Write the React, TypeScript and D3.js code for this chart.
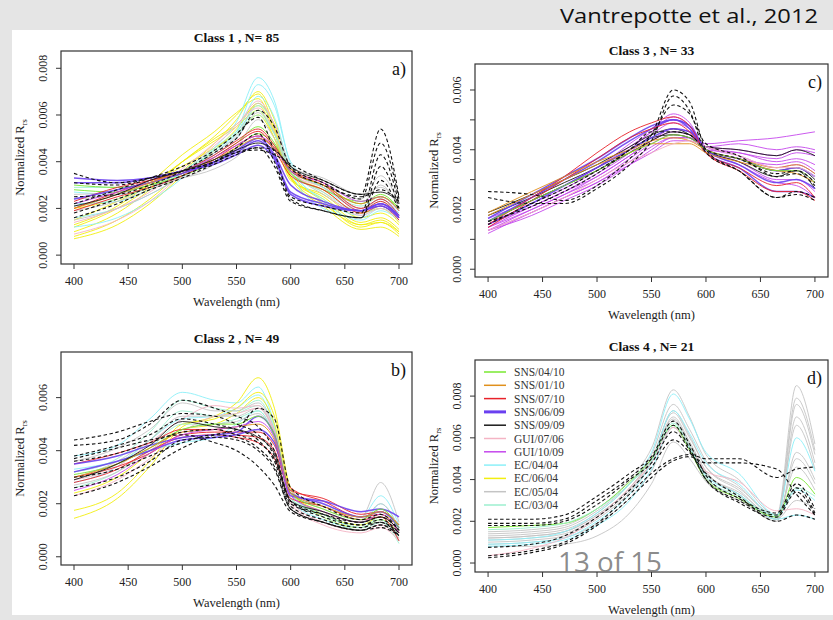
import React, { useEffect } from "react";
import * as d3 from "d3";

// Wavelength sampling (nm) shared by every spectrum
const WAVELENGTHS = [400, 440, 470, 500, 530, 550, 570, 585, 600, 630, 665, 683, 700];
const X_TICKS = [400, 450, 500, 550, 600, 650, 700];

const LEGEND_LABELS = [
  "SNS/04/10", "SNS/01/10", "SNS/07/10", "SNS/06/09", "SNS/09/09",
  "GUI/07/06", "GUI/10/09", "EC/04/04", "EC/06/04", "EC/05/04", "EC/03/04",
];
const LEGEND_COLORS = [
  "#78e830", "#e0901c", "#e8222a", "#6a40f0", "#1a1a1a",
  "#f4b4c4", "#c548ec", "#8cf0f8", "#f2ee10", "#c4c4c4", "#9cefcf",
];
const DASHED = "dashed";

// Normalized Rrs values in units of 1e-3 sr^-1 at WAVELENGTHS
const class1Categories = [
  "EC/06/04", "EC/06/04", "EC/06/04", "EC/06/04", "EC/06/04", "EC/06/04", "EC/06/04",
  "EC/04/04", "EC/04/04", "EC/04/04", "EC/04/04",
  "EC/05/04", "EC/05/04", "EC/05/04", "EC/05/04",
  "GUI/07/06", "GUI/07/06", "EC/03/04", "EC/03/04", "SNS/04/10", "SNS/04/10",
  "SNS/07/10", "SNS/07/10", "SNS/07/10", "SNS/06/09", "SNS/06/09", "SNS/06/09",
  "GUI/10/09", "SNS/01/10", "SNS/09/09",
  DASHED, DASHED, DASHED, DASHED, DASHED, DASHED,
];
const class1Values = [
  [0.8, 1.5, 2.4, 3.6, 4.8, 5.8, 7.0, 5.8, 3.6, 2.3, 1.2, 1.4, 0.9],
  [1.0, 1.8, 2.8, 4.0, 5.1, 6.0, 6.9, 5.5, 3.4, 2.2, 1.3, 1.5, 1.0],
  [1.3, 2.1, 3.1, 4.3, 5.3, 6.1, 6.7, 5.3, 3.3, 2.5, 1.4, 1.6, 1.1],
  [1.5, 2.3, 3.0, 4.0, 4.9, 5.5, 6.2, 5.0, 3.2, 2.6, 1.6, 1.8, 1.3],
  [2.0, 2.4, 3.0, 3.8, 4.6, 5.2, 6.0, 5.0, 3.5, 2.8, 1.8, 2.0, 1.4],
  [0.7, 1.3, 2.2, 3.4, 4.5, 5.4, 6.5, 5.4, 3.3, 2.1, 1.1, 1.2, 0.8],
  [1.2, 2.0, 2.9, 4.0, 5.0, 5.6, 6.4, 5.2, 3.3, 2.4, 1.3, 1.4, 1.0],
  [1.2, 1.6, 2.3, 3.3, 4.6, 5.7, 7.6, 6.6, 3.9, 2.3, 1.5, 1.9, 1.5],
  [2.7, 2.6, 2.9, 3.5, 4.5, 5.3, 7.3, 6.4, 4.0, 2.9, 2.0, 2.4, 1.8],
  [2.2, 2.3, 2.8, 3.5, 4.3, 5.0, 6.4, 5.6, 3.6, 2.0, 1.6, 2.0, 1.6],
  [1.6, 2.0, 2.6, 3.4, 4.4, 5.2, 6.8, 5.9, 3.7, 2.4, 1.7, 2.1, 1.5],
  [2.4, 2.6, 3.0, 3.3, 3.9, 4.6, 5.8, 5.0, 3.6, 3.0, 2.4, 3.4, 2.2],
  [1.9, 2.3, 2.8, 3.4, 4.3, 5.0, 6.1, 5.2, 3.7, 2.9, 2.2, 3.0, 2.0],
  [1.5, 2.0, 2.6, 3.4, 4.4, 5.1, 6.5, 5.6, 3.8, 2.6, 1.9, 2.4, 1.7],
  [2.6, 2.7, 3.0, 3.3, 3.7, 4.2, 5.0, 4.6, 3.8, 3.3, 2.6, 2.9, 2.2],
  [0.9, 1.5, 2.3, 3.5, 4.7, 5.5, 6.6, 5.6, 3.7, 2.7, 1.7, 2.0, 1.5],
  [1.4, 2.0, 2.7, 3.7, 4.8, 5.6, 6.3, 5.3, 3.5, 2.9, 2.0, 2.2, 1.6],
  [2.9, 2.9, 3.1, 3.6, 4.5, 5.2, 6.0, 5.2, 3.8, 2.9, 2.1, 2.5, 1.9],
  [2.1, 2.4, 2.9, 3.6, 4.6, 5.3, 6.2, 5.2, 3.6, 2.7, 1.9, 2.3, 1.7],
  [3.0, 2.9, 3.1, 3.5, 4.2, 4.8, 5.5, 4.8, 3.6, 3.0, 2.2, 2.6, 2.0],
  [2.8, 2.7, 3.0, 3.4, 4.0, 4.6, 5.2, 4.7, 3.5, 2.8, 2.3, 2.5, 2.0],
  [2.0, 2.7, 3.2, 3.6, 4.3, 4.9, 5.4, 4.7, 3.6, 3.0, 1.9, 2.3, 1.6],
  [2.3, 2.9, 3.2, 3.5, 4.2, 4.8, 5.3, 4.6, 3.7, 3.1, 2.0, 2.4, 1.7],
  [1.9, 2.5, 2.9, 3.4, 4.1, 4.7, 5.1, 4.5, 3.4, 2.8, 1.8, 2.1, 1.5],
  [3.3, 3.2, 3.3, 3.6, 3.9, 4.3, 4.7, 4.1, 2.6, 2.1, 1.9, 2.1, 1.6],
  [3.1, 3.1, 3.3, 3.6, 4.0, 4.4, 4.9, 4.2, 2.7, 2.2, 1.9, 2.2, 1.7],
  [2.4, 2.8, 3.1, 3.5, 4.0, 4.5, 5.0, 4.3, 3.0, 2.3, 1.9, 2.2, 1.6],
  [2.2, 2.7, 3.1, 3.6, 4.2, 4.7, 5.1, 4.6, 3.6, 3.1, 2.3, 2.5, 1.9],
  [2.0, 2.6, 3.1, 3.6, 4.1, 4.6, 5.0, 4.6, 3.7, 3.0, 2.2, 2.5, 1.9],
  [2.1, 2.6, 3.2, 3.6, 4.1, 4.5, 4.8, 4.5, 3.8, 3.2, 2.6, 2.7, 2.3],
  [3.5, 3.1, 3.3, 3.6, 4.0, 4.4, 4.5, 4.3, 3.9, 3.2, 2.6, 5.4, 2.5],
  [2.5, 2.6, 3.0, 3.6, 4.4, 5.0, 6.2, 5.5, 3.8, 3.1, 2.4, 4.8, 2.4],
  [2.2, 2.8, 3.3, 3.8, 4.5, 5.2, 5.9, 4.4, 2.5, 2.1, 1.8, 4.3, 2.2],
  [1.8, 2.4, 2.9, 3.4, 4.0, 4.6, 5.2, 4.0, 2.4, 1.9, 1.6, 3.8, 2.0],
  [1.6, 2.2, 2.8, 3.3, 3.9, 4.3, 4.6, 3.8, 2.3, 1.9, 1.6, 3.2, 1.9],
  [3.1, 3.0, 3.3, 3.6, 4.0, 4.4, 4.6, 4.5, 3.7, 3.0, 2.5, 2.8, 2.3],
];

const class2Categories = [
  "EC/04/04", "EC/04/04", "EC/04/04", "EC/06/04", "EC/06/04", "EC/06/04",
  "EC/03/04", "EC/03/04", "EC/03/04", "EC/05/04", "EC/05/04", "EC/05/04",
  "GUI/07/06", "GUI/07/06", "SNS/07/10", "SNS/07/10", "SNS/07/10",
  "SNS/06/09", "SNS/06/09", "SNS/04/10", "SNS/01/10", "GUI/10/09", "SNS/09/09",
  DASHED, DASHED, DASHED, DASHED, DASHED, DASHED, DASHED, DASHED,
];
const class2Values = [
  [3.8, 4.2, 5.2, 6.2, 5.9, 5.8, 6.4, 5.0, 2.3, 1.9, 1.5, 2.3, 1.2],
  [3.3, 3.6, 4.0, 4.3, 4.5, 5.0, 5.5, 4.5, 2.1, 1.4, 1.1, 1.4, 0.6],
  [2.8, 3.4, 4.4, 5.2, 5.3, 5.6, 6.1, 4.9, 2.4, 1.6, 1.2, 2.0, 1.0],
  [1.45, 2.2, 3.4, 4.9, 5.3, 5.8, 6.75, 5.6, 2.6, 1.5, 1.1, 1.4, 0.9],
  [1.75, 2.4, 3.6, 5.0, 5.2, 5.6, 6.2, 5.3, 2.5, 1.6, 1.2, 1.5, 1.0],
  [2.4, 3.0, 3.9, 4.8, 5.0, 5.4, 6.0, 5.0, 2.4, 1.7, 1.3, 1.6, 1.1],
  [3.2, 3.7, 4.7, 5.9, 5.6, 5.5, 5.9, 4.8, 2.3, 1.6, 1.1, 1.4, 0.6],
  [2.9, 3.5, 4.4, 5.5, 5.3, 5.4, 5.7, 4.6, 2.2, 1.5, 1.0, 1.3, 0.5],
  [2.6, 3.2, 4.1, 5.0, 5.0, 5.2, 5.5, 4.5, 2.2, 1.6, 1.1, 1.5, 0.7],
  [3.6, 4.1, 4.8, 5.8, 5.5, 5.5, 5.8, 4.8, 2.5, 1.9, 1.5, 2.8, 1.3],
  [3.0, 3.6, 4.4, 5.3, 5.3, 5.3, 5.6, 4.7, 2.4, 1.8, 1.4, 2.0, 1.1],
  [2.7, 3.2, 4.0, 4.8, 5.0, 5.1, 5.4, 4.5, 2.3, 1.7, 1.3, 1.8, 1.0],
  [2.9, 3.4, 4.3, 5.2, 5.7, 5.6, 5.7, 4.7, 2.0, 1.2, 0.9, 1.1, 0.6],
  [2.3, 2.9, 3.7, 4.7, 5.3, 5.4, 5.6, 4.6, 2.1, 1.3, 1.0, 1.2, 0.7],
  [3.5, 3.9, 4.3, 4.8, 4.8, 4.6, 4.5, 4.0, 2.5, 2.2, 1.6, 1.7, 1.2],
  [3.0, 3.4, 3.9, 4.6, 4.7, 4.7, 4.7, 4.2, 2.6, 2.1, 1.5, 1.6, 0.9],
  [2.8, 3.3, 4.0, 4.5, 4.6, 4.5, 4.3, 3.7, 2.2, 1.9, 1.4, 1.5, 0.6],
  [3.5, 3.8, 4.2, 4.5, 4.6, 4.7, 5.3, 4.6, 2.3, 2.1, 1.7, 1.8, 1.5],
  [3.2, 3.6, 4.0, 4.4, 4.5, 4.6, 4.8, 4.3, 2.4, 2.0, 1.5, 1.7, 1.1],
  [3.1, 3.5, 4.1, 4.8, 5.0, 5.0, 5.3, 4.6, 2.4, 1.8, 1.4, 1.8, 1.1],
  [3.0, 3.5, 4.1, 4.7, 4.8, 4.9, 5.0, 4.4, 2.4, 1.9, 1.5, 1.7, 1.2],
  [2.5, 3.1, 3.9, 4.6, 4.8, 4.9, 5.1, 4.5, 2.3, 1.7, 1.3, 1.6, 0.9],
  [2.9, 3.5, 4.2, 5.1, 4.9, 4.8, 4.5, 3.9, 2.1, 1.7, 1.3, 1.5, 1.0],
  [4.4, 4.7, 5.1, 5.4, 5.3, 5.0, 4.6, 3.8, 2.0, 1.6, 1.3, 1.5, 1.0],
  [4.2, 4.4, 5.0, 5.9, 5.6, 5.3, 4.9, 4.0, 2.1, 1.6, 1.2, 1.4, 0.9],
  [3.8, 4.2, 4.6, 5.2, 5.0, 4.8, 4.4, 3.6, 1.9, 1.4, 1.1, 1.3, 0.8],
  [3.6, 3.9, 4.3, 4.7, 4.8, 4.6, 4.3, 3.7, 2.1, 1.5, 1.2, 1.3, 0.9],
  [3.0, 3.3, 3.8, 4.3, 4.6, 4.5, 4.1, 3.4, 1.8, 1.3, 1.0, 1.1, 0.8],
  [2.3, 2.8, 3.4, 4.1, 4.6, 4.8, 5.6, 5.2, 2.6, 1.9, 1.4, 1.6, 1.0],
  [2.6, 3.0, 3.6, 4.4, 4.5, 4.4, 4.0, 3.3, 1.8, 1.3, 1.0, 1.2, 0.8],
  [3.7, 4.1, 4.4, 4.6, 4.3, 4.0, 3.4, 2.7, 1.7, 1.3, 1.0, 1.2, 0.8],
];

const class3Categories = [
  "GUI/10/09", "GUI/10/09", "GUI/10/09", "GUI/10/09", "GUI/10/09",
  "GUI/10/09", "GUI/10/09", "GUI/10/09", "GUI/10/09", "GUI/10/09",
  "SNS/09/09", "SNS/09/09", "SNS/09/09", "SNS/06/09", "SNS/06/09", "SNS/06/09",
  "SNS/07/10", "SNS/07/10", "SNS/01/10", "SNS/01/10", "SNS/04/10", "GUI/07/06",
  DASHED, DASHED, DASHED, DASHED,
];
const class3Values = [
  [1.3, 2.0, 2.5, 3.1, 3.8, 4.3, 4.6, 4.5, 4.0, 3.7, 3.3, 3.3, 2.9],
  [1.2, 1.9, 2.4, 2.9, 3.6, 4.1, 4.4, 4.4, 4.2, 4.3, 4.4, 4.5, 4.6],
  [1.4, 2.1, 2.6, 3.2, 3.9, 4.5, 4.9, 4.7, 4.1, 3.9, 3.7, 3.9, 3.8],
  [1.5, 2.2, 2.7, 3.3, 4.0, 4.6, 5.0, 4.8, 4.0, 3.7, 3.5, 3.6, 3.3],
  [1.3, 1.9, 2.4, 2.9, 3.5, 3.9, 4.3, 4.3, 4.1, 4.0, 3.8, 4.0, 3.9],
  [1.6, 2.3, 2.8, 3.4, 4.1, 4.6, 5.1, 4.8, 4.0, 3.6, 3.0, 3.0, 2.6],
  [1.7, 2.3, 2.8, 3.4, 4.2, 4.7, 5.2, 4.9, 4.0, 3.5, 2.9, 2.8, 2.4],
  [1.4, 2.0, 2.5, 3.0, 3.7, 4.2, 4.5, 4.4, 4.1, 4.2, 4.0, 4.1, 4.0],
  [1.5, 2.1, 2.6, 3.1, 3.8, 4.3, 4.7, 4.6, 4.1, 3.8, 3.4, 3.5, 3.2],
  [1.3, 1.8, 2.3, 2.8, 3.5, 4.0, 4.4, 4.4, 4.0, 3.9, 3.6, 3.7, 3.5],
  [1.6, 2.3, 2.8, 3.3, 3.9, 4.3, 4.6, 4.5, 4.1, 4.0, 3.8, 4.0, 3.8],
  [1.8, 2.4, 2.9, 3.4, 4.0, 4.4, 4.5, 4.4, 4.0, 3.7, 3.3, 3.4, 3.0],
  [1.9, 2.5, 3.0, 3.5, 4.1, 4.5, 4.7, 4.5, 4.0, 3.6, 3.1, 3.3, 2.7],
  [1.6, 2.4, 3.0, 3.6, 4.3, 4.7, 5.0, 4.8, 4.0, 3.5, 2.9, 3.0, 2.7],
  [1.7, 2.5, 3.1, 3.7, 4.4, 4.8, 5.0, 4.7, 3.9, 3.4, 2.6, 2.6, 2.4],
  [1.5, 2.2, 2.8, 3.4, 4.0, 4.4, 4.7, 4.6, 4.0, 3.7, 3.3, 3.4, 3.1],
  [1.5, 2.4, 3.1, 3.9, 4.6, 4.9, 5.1, 4.8, 3.9, 3.3, 2.6, 2.6, 2.3],
  [1.4, 2.3, 3.0, 3.7, 4.4, 4.7, 4.9, 4.6, 3.9, 3.4, 2.8, 2.9, 2.4],
  [1.9, 2.6, 3.1, 3.6, 4.0, 4.3, 4.4, 4.3, 4.0, 3.7, 3.4, 3.5, 3.2],
  [1.8, 2.5, 3.0, 3.5, 3.9, 4.2, 4.2, 4.2, 3.9, 3.6, 3.3, 3.2, 2.9],
  [1.6, 2.3, 2.8, 3.3, 3.9, 4.2, 4.5, 4.4, 4.0, 3.7, 3.3, 3.3, 2.9],
  [1.3, 1.9, 2.4, 3.0, 3.6, 3.9, 4.2, 4.3, 4.1, 3.8, 3.4, 3.4, 3.1],
  [2.6, 2.5, 2.3, 2.8, 3.7, 4.5, 6.0, 5.6, 4.0, 3.3, 2.4, 2.5, 2.3],
  [2.4, 2.2, 2.2, 2.7, 3.5, 4.3, 5.8, 5.3, 3.9, 3.3, 2.4, 2.6, 2.4],
  [1.6, 2.1, 2.6, 3.2, 4.0, 4.5, 5.5, 5.2, 4.2, 3.8, 3.1, 3.2, 2.8],
  [1.5, 2.2, 2.7, 3.3, 4.0, 4.6, 4.6, 4.5, 4.0, 3.7, 3.2, 3.3, 2.9],
];

const class4Categories = [
  "EC/05/04", "EC/05/04", "EC/05/04", "EC/05/04", "EC/05/04", "EC/05/04",
  "EC/05/04", "EC/05/04", "EC/05/04", "EC/04/04", "EC/04/04", "EC/04/04",
  "GUI/07/06", "SNS/04/10", "EC/03/04",
  DASHED, DASHED, DASHED, DASHED, DASHED, DASHED,
];
const class4Values = [
  [1.5, 1.6, 1.8, 2.6, 4.0, 5.5, 8.3, 7.0, 5.2, 4.0, 2.3, 8.5, 5.7],
  [1.3, 1.4, 1.6, 2.4, 3.8, 5.2, 7.6, 6.4, 4.9, 3.7, 2.2, 7.9, 5.4],
  [1.2, 1.3, 1.5, 2.3, 3.6, 5.0, 7.2, 6.0, 4.6, 3.5, 2.1, 7.6, 5.2],
  [1.0, 1.1, 1.3, 2.1, 3.4, 4.8, 7.0, 5.8, 4.4, 3.3, 2.0, 7.0, 4.8],
  [1.4, 1.5, 1.7, 2.5, 3.8, 5.0, 6.8, 5.6, 4.3, 3.4, 2.2, 6.6, 4.5],
  [0.9, 1.0, 1.2, 1.9, 3.1, 4.4, 6.5, 5.4, 4.1, 3.1, 2.0, 5.3, 4.0],
  [0.8, 0.8, 0.9, 1.3, 2.4, 3.8, 5.8, 5.0, 3.9, 3.0, 2.1, 5.0, 3.8],
  [1.1, 1.2, 1.4, 2.2, 3.5, 4.9, 7.3, 6.1, 4.6, 3.6, 2.3, 4.6, 3.5],
  [1.2, 1.3, 1.5, 2.3, 3.6, 5.0, 6.9, 5.7, 4.3, 3.3, 2.1, 3.0, 2.6],
  [1.1, 1.2, 1.5, 2.4, 3.8, 5.3, 8.1, 6.9, 5.3, 4.3, 2.3, 6.0, 4.4],
  [0.9, 1.0, 1.2, 2.0, 3.3, 4.8, 7.3, 6.2, 4.8, 3.8, 2.2, 3.5, 3.0],
  [0.8, 0.9, 1.1, 1.8, 3.0, 4.5, 6.6, 5.5, 4.2, 3.3, 2.1, 2.3, 2.1],
  [0.35, 0.7, 1.2, 2.2, 3.6, 4.8, 6.5, 5.6, 4.4, 3.9, 2.5, 2.6, 2.3],
  [1.7, 1.8, 1.9, 2.6, 3.9, 5.0, 6.6, 5.4, 4.0, 3.1, 2.2, 4.1, 3.3],
  [1.6, 1.7, 1.9, 2.6, 3.8, 4.9, 6.7, 5.6, 4.1, 3.2, 2.3, 3.6, 3.2],
  [2.1, 2.1, 2.3, 3.2, 4.3, 5.1, 6.8, 5.7, 4.2, 3.1, 2.4, 3.8, 2.6],
  [1.9, 1.9, 2.1, 3.0, 4.1, 5.0, 6.6, 5.5, 4.0, 3.0, 2.3, 3.6, 2.4],
  [1.8, 1.8, 2.0, 2.8, 4.0, 4.8, 6.3, 5.4, 4.0, 2.9, 2.2, 3.4, 2.3],
  [0.75, 0.9, 1.3, 2.2, 3.5, 4.6, 5.9, 5.3, 4.3, 3.2, 2.0, 2.3, 2.1],
  [0.35, 0.6, 1.0, 1.9, 3.3, 4.3, 5.0, 5.2, 5.0, 5.0, 4.1, 4.5, 4.6],
  [0.25, 0.5, 0.9, 1.8, 3.1, 4.1, 4.9, 5.1, 4.8, 4.8, 4.5, 3.3, 2.3],
];

const PANELS = [
  { id: "a", title: "Class 1 , N= 85", tag: "a)", cats: class1Categories, vals: class1Values,
    yDomain: [-0.38, 8.74], yTicks: [0, 2, 4, 6, 8], yLabels: [0, 2, 4, 6, 8],
    box: [61, 51, 412, 264], legend: false },
  { id: "b", title: "Class 2 , N= 49", tag: "b)", cats: class2Categories, vals: class2Values,
    yDomain: [-0.31, 7.72], yTicks: [0, 2, 4, 6], yLabels: [0, 2, 4, 6],
    box: [61, 352, 412, 565], legend: false },
  { id: "c", title: "Class 3 , N= 33", tag: "c)", cats: class3Categories, vals: class3Values,
    yDomain: [-0.26, 6.87], yTicks: [0, 1, 2, 3, 4, 5, 6], yLabels: [0, 2, 4, 6],
    box: [475, 64, 828, 277], legend: false },
  { id: "d", title: "Class 4 , N= 21", tag: "d)", cats: class4Categories, vals: class4Values,
    yDomain: [-0.43, 9.73], yTicks: [0, 2, 4, 6, 8], yLabels: [0, 2, 4, 6, 8],
    box: [475, 360, 828, 572], legend: true },
];

const SERIF = "'Liberation Serif', 'DejaVu Serif', 'Times New Roman', serif";
const colorOf = (cat) => LEGEND_COLORS[LEGEND_LABELS.indexOf(cat)] || "#000";

function Panel({ p }) {
  const [x0, y0, x1, y1] = p.box;
  const x = d3.scaleLinear().domain([388, 712]).range([x0, x1]);
  const y = d3.scaleLinear().domain(p.yDomain).range([y1, y0]);
  const line = d3
    .line()
    .x((_, i) => x(WAVELENGTHS[i]))
    .y((v) => y(v))
    .curve(d3.curveMonotoneX);
  const order = p.vals.map((_, i) => i);
  const solids = order.filter((i) => p.cats[i] !== DASHED);
  const dashes = order.filter((i) => p.cats[i] === DASHED);
  const clipId = `clip-${p.id}`;
  const cx = (x0 + x1) / 2;
  const cy = (y0 + y1) / 2;
  return (
    <g>
      <defs>
        <clipPath id={clipId}>
          <rect x={x0} y={y0} width={x1 - x0} height={y1 - y0} />
        </clipPath>
      </defs>
      <g clipPath={`url(#${clipId})`}>
        {solids.map((i) => (
          <path key={i} d={line(p.vals[i])} fill="none" stroke={colorOf(p.cats[i])}
            strokeWidth={p.cats[i] === "SNS/06/09" ? 1.5 : 1.0} strokeOpacity={0.9} />
        ))}
        {dashes.map((i) => (
          <path key={i} d={line(p.vals[i])} fill="none" stroke="#111"
            strokeWidth={1.1} strokeDasharray="3.5,2.5" />
        ))}
      </g>
      <rect x={x0} y={y0} width={x1 - x0} height={y1 - y0} fill="none" stroke="#333" strokeWidth={1.2} />
      {X_TICKS.map((t) => (
        <g key={t}>
          <line x1={x(t)} x2={x(t)} y1={y1} y2={y1 + 5} stroke="#333" strokeWidth={1} />
          <text x={x(t)} y={y1 + 21} textAnchor="middle" fontFamily={SERIF} fontSize={12} fill="#222">{t}</text>
        </g>
      ))}
      {p.yTicks.map((t) => (
        <line key={t} x1={x0} x2={x0 - 5} y1={y(t)} y2={y(t)} stroke="#333" strokeWidth={1} />
      ))}
      {p.yLabels.map((t) => (
        <text key={t} transform={`translate(${x0 - 14},${y(t)}) rotate(-90)`} textAnchor="middle"
          fontFamily={SERIF} fontSize={12} fill="#222">{(t / 1000).toFixed(3)}</text>
      ))}
      <text x={cx} y={y0 - 9} textAnchor="middle" fontFamily={SERIF} fontSize={13.5} fontWeight="bold" fill="#111">{p.title}</text>
      <text x={cx} y={y1 + 42} textAnchor="middle" fontFamily={SERIF} fontSize={12.5} fill="#222">Wavelength (nm)</text>
      <text transform={`translate(${x0 - 37},${cy}) rotate(-90)`} textAnchor="middle" fontFamily={SERIF} fontSize={12.5} fill="#222">
        Normalized R<tspan fontSize={8.5} dy={3}>rs</tspan>
      </text>
      <text x={x1 - 6} y={y0 + 24} textAnchor="end" fontFamily={SERIF} fontSize={18} fill="#111">{p.tag}</text>
      {p.legend &&
        LEGEND_LABELS.map((lab, i) => {
          const ly = y0 + 12 + i * 13.3;
          return (
            <g key={lab}>
              <line x1={x0 + 9} x2={x0 + 31} y1={ly} y2={ly} stroke={LEGEND_COLORS[i]}
                strokeWidth={lab === "SNS/06/09" ? 3 : 1.5} />
              <text x={x0 + 39} y={ly + 4} fontFamily={SERIF} fontSize={11.5} fill="#333">{lab}</text>
            </g>
          );
        })}
    </g>
  );
}

export default function App() {
  useEffect(() => {
    document.body.style.margin = "0";
  }, []);
  return (
    <svg width={833} height={620} style={{ position: "absolute", left: 0, top: 0, display: "block" }}>
      <rect x={0} y={0} width={833} height={620} fill="#e5e5e5" />
      <rect x={12} y={30} width={821} height={585} fill="#ffffff" />
      <text x={818} y={23} textAnchor="end" fontFamily="'Open Sans', 'Liberation Sans', sans-serif" fontSize={20}
        textLength={258} lengthAdjust="spacingAndGlyphs" fill="#111">Vantrepotte et al., 2012</text>
      {PANELS.map((p) => (
        <Panel key={p.id} p={p} />
      ))}
      <text x={558} y={572} fontFamily="'Open Sans', 'Liberation Sans', sans-serif" fontSize={27}
        textLength={104} lengthAdjust="spacingAndGlyphs" fill="#777" fillOpacity={0.85}>13 of 15</text>
    </svg>
  );
}
